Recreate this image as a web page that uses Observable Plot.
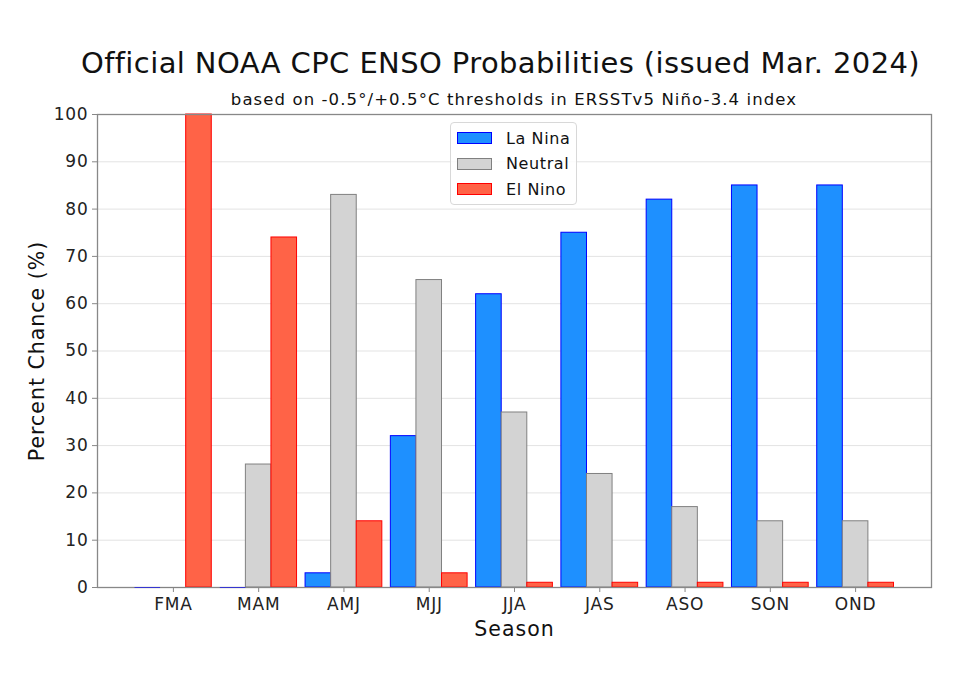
<!DOCTYPE html>
<html>
<head>
<meta charset="utf-8">
<script src="https://cdn.jsdelivr.net/npm/d3@7"></script>
<script src="https://cdn.jsdelivr.net/npm/@observablehq/plot@0.6"></script>
<style>
  html, body { margin: 0; padding: 0; background: #fff; }
  #wrap { position: relative; width: 964px; height: 678px; font-family: "DejaVu Sans", sans-serif; color: #111; }
  #title { position: absolute; left: 0; width: 1001px; top: 48.5px; text-align: center; font-size: 29px; letter-spacing: 0.4px; line-height: 1; white-space: nowrap; }
  #subtitle { position: absolute; left: 97px; width: 834px; top: 91.7px; text-align: center; font-size: 16.5px; letter-spacing: 1.1px; line-height: 1; white-space: nowrap; }
  #chart { position: absolute; left: 0; top: 90px; }
  #legend { position: absolute; left: 450px; top: 122px; width: 127px; height: 83px; box-sizing: border-box;
            border: 1px solid #d8d8d8; border-radius: 4px; background: rgba(255,255,255,0.85); font-size: 16px; letter-spacing: 0.6px; }
  .row { position: absolute; left: 6px; height: 20px; display: flex; align-items: center; white-space: nowrap; }
  .sw { width: 35px; height: 12px; box-sizing: border-box; border: 1px solid; margin-right: 14px; }
  g[aria-label="y-axis tick label"] text, g[aria-label="x-axis tick label"] text { letter-spacing: 0.8px; }
  g[aria-label="y-axis label"] text, g[aria-label="x-axis label"] text { font-size: 20.5px; letter-spacing: 1px; fill: #111; }
</style>
</head>
<body>
<div id="wrap">
  <div id="title">Official NOAA CPC ENSO Probabilities (issued Mar. 2024)</div>
  <div id="subtitle">based on -0.5°/+0.5°C thresholds in ERSSTv5 Niño-3.4 index</div>
  <div id="chart"></div>
  <div id="legend"></div>
</div>
<script>
const seasons = ["FMA", "MAM", "AMJ", "MJJ", "JJA", "JAS", "ASO", "SON", "OND"];
const laNina  = [0, 0, 3, 32, 62, 75, 82, 85, 85];
const neutral = [0, 26, 83, 65, 37, 24, 17, 14, 14];
const elNino  = [100, 74, 14, 3, 1, 1, 1, 1, 1];
const yTicks = [0, 10, 20, 30, 40, 50, 60, 70, 80, 90, 100];

const series = [
  {name: "La Nina", values: laNina, fill: "#1E90FF", stroke: "#0000FF", offset: -1},
  {name: "Neutral", values: neutral, fill: "#D3D3D3", stroke: "#808080", offset: 0},
  {name: "El Nino", values: elNino, fill: "#FF6347", stroke: "#FF0000", offset: 1}
];
const barW = 0.3;
const left = s => (d, i) => i + s.offset * barW - barW / 2;
const right = s => (d, i) => i + s.offset * barW + barW / 2;

const chart = Plot.plot({
  width: 964,
  height: 588,
  marginTop: 24,
  marginBottom: 91,
  marginLeft: 97,
  marginRight: 33,
  style: {fontFamily: "DejaVu Sans", fontSize: "17px", color: "#222", background: "transparent"},
  x: {type: "linear", domain: [-0.89, seasons.length - 1 + 0.89]},
  y: {domain: [0, 100]},
  marks: [
    Plot.gridY(yTicks, {stroke: "#e3e3e3", strokeOpacity: 1}),
    ...series.map(s => Plot.rectY(s.values, {
      x1: left(s), x2: right(s),
      y1: 0, y2: d => d,
      fill: s.fill, stroke: s.stroke, strokeWidth: 1
    })),
    Plot.axisY({ticks: yTicks, tickSize: 5, tickPadding: 4, stroke: "#888", label: "Percent Chance (%)", labelAnchor: "center", labelOffset: 68, labelArrow: "none"}),
    Plot.axisX({ticks: d3.range(seasons.length), tickFormat: i => seasons[i], tickSize: 5, tickPadding: 5, stroke: "#888", label: "Season", labelAnchor: "center", labelOffset: 48, labelArrow: "none"}),
    Plot.frame({stroke: "#888", strokeWidth: 1.3}),
    // zero-height bars still show their outline as a thin line on the baseline
    ...series.map(s => Plot.ruleY(s.values, {
      filter: d => d === 0,
      x1: left(s), x2: right(s),
      y: d => d,
      stroke: s.stroke, strokeWidth: 1, strokeOpacity: 0.6
    }))
  ]
});
document.getElementById("chart").appendChild(chart);

const legend = document.getElementById("legend");
series.forEach((s, k) => {
  const row = document.createElement("div");
  row.className = "row";
  row.style.top = (5 + k * 25.5) + "px";
  const sw = document.createElement("div");
  sw.className = "sw";
  sw.style.background = s.fill;
  sw.style.borderColor = s.stroke;
  row.appendChild(sw);
  const t = document.createElement("span");
  t.textContent = s.name;
  row.appendChild(t);
  legend.appendChild(row);
});
</script>
</body>
</html>
